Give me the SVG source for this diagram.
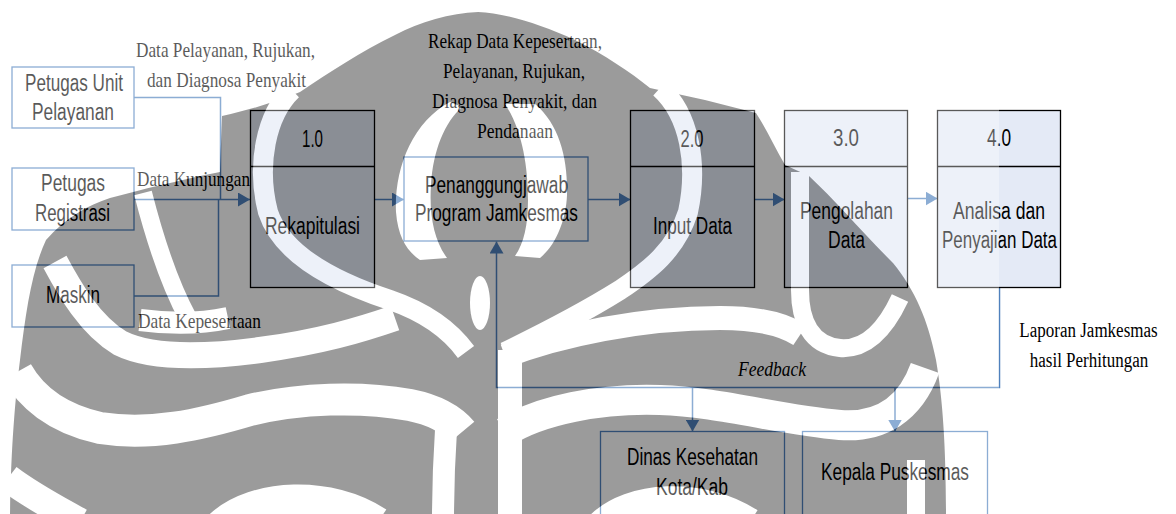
<svg xmlns="http://www.w3.org/2000/svg" xmlns:xlink="http://www.w3.org/1999/xlink" width="1176" height="514" viewBox="0 0 1176 514">
  <style>
    .ent { fill: none; stroke: #4f81bd; stroke-width: 1.3; }
    .proc { fill: #e4eaf6; stroke: #000; stroke-width: 1.3; }
    .div { stroke: #000; stroke-width: 1.3; }
    .flow { fill: none; stroke: #4f81bd; stroke-width: 1.5; }
    .sans { font-family: "Liberation Sans", Arial, sans-serif; font-size: 23px; fill: #000; text-anchor: middle; }
    .serif { font-family: "Liberation Serif", "Times New Roman", serif; font-size: 21.5px; fill: #000; }
    .small { font-size: 17px; }
    .mid { text-anchor: middle; }
    .ital { font-style: italic; }
    .gap { fill: none; }
  </style>
  <defs>
    <marker id="arrow" viewBox="0 0 12 14" refX="12" refY="7" markerWidth="12" markerHeight="14" markerUnits="userSpaceOnUse" orient="auto">
      <path d="M0,0 L12,7 L0,14 Z" fill="#4f81bd"/>
    </marker>

    <!-- emblem outline -->
    <path id="wm-body" d="M478,12 C505,13 540,24 575,40 C605,55 630,72 650,88 L705,100 L756,113 C766,128 775,148 785,165 L809,176 C835,200 862,232 893,263 C915,290 928,320 936,360 C943,400 946,450 946,514 L10,514 C11,450 15,400 20,360 C26,310 32,270 46,240 C65,218 88,205 110,198 C140,190 180,180 220,172 L222,116 C250,110 275,102 300,92 C330,72 360,52 395,35 C420,22 450,13 478,12 Z"/>

    <!-- light gaps that split the emblem into bands -->
    <g id="wm-gaps">
      <!-- left half -->
      <path class="gap" stroke-width="20" d="M292,90 C266,115 256,165 268,212 C282,255 335,282 390,300 C425,312 450,330 466,352"/>
      <path stroke="none" d="M450,102 C412,122 394,170 396,212 C398,238 408,252 420,260 L447,258 C434,240 429,215 431,185 C433,150 445,122 462,107 Z"/>
      <path class="gap" stroke-width="18" d="M143,193 C155,240 170,285 188,318"/>
      <path class="gap" stroke-width="22" d="M140,320 C170,324 200,324 228,318"/>
      <path class="gap" stroke-width="26" d="M55,262 C70,290 90,325 120,343 C150,358 200,358 260,350 C320,342 360,330 395,318"/>
      <path class="gap" stroke-width="32" d="M17,372 C30,395 55,418 100,428 C150,436 200,425 250,410 C300,398 360,396 410,405 C435,410 452,420 462,432"/>
      <path class="gap" stroke-width="28" d="M8,478 C30,495 55,508 80,522"/>
      <path class="gap" stroke-width="30" d="M220,525 C255,493 330,490 378,522"/>
      <path class="gap" stroke-width="22" d="M446,430 C444,460 443,490 443,520"/>
      <!-- centre -->
      <ellipse stroke="none" cx="480" cy="303" rx="10" ry="27"/>
      <!-- right half -->
      <path stroke="none" d="M505,104 C522,130 528,165 528,200 C528,225 524,243 515,256 L540,258 C556,245 566,220 567,195 C568,160 560,125 535,104 Z"/>
      <path class="gap" stroke-width="20" d="M660,88 C690,115 698,165 688,212 C676,250 650,270 620,290 C580,315 540,335 505,352"/>
      <path class="gap" stroke-width="24" d="M505,356 C560,335 640,318 720,318 C760,318 785,325 800,335"/>
      <path class="gap" stroke-width="18" d="M800,172 L800,290 C800,320 810,345 840,348 C865,350 885,330 900,298"/>
      <path class="gap" stroke-width="30" d="M505,432 C540,410 600,398 660,400 C720,402 780,420 840,425 C880,428 910,410 925,368"/>
      <path class="gap" stroke-width="24" d="M510,350 L510,522"/>
      <path class="gap" stroke-width="28" d="M600,525 C630,495 700,490 750,522"/>
      <path class="gap" stroke-width="18" d="M916,460 L916,520"/>
    </g>

    <mask id="band-mask" maskUnits="userSpaceOnUse" x="0" y="0" width="1176" height="514">
      <use xlink:href="#wm-body" fill="#fff"/>
      <use xlink:href="#wm-gaps" fill="#000" stroke="#000"/>
    </mask>
    <mask id="gap-mask" maskUnits="userSpaceOnUse" x="0" y="0" width="1176" height="514">
      <rect x="0" y="0" width="999" height="514" fill="#fff"/>
      <use xlink:href="#wm-body" fill="#000"/>
      <use xlink:href="#wm-gaps" fill="#fff" stroke="#fff"/>
    </mask>
  </defs>

  <rect width="1176" height="514" fill="#fff"/>

  <!-- data flows -->
  <g id="connectors">
    <path class="flow" d="M134,97.5 H220.5 V199.5"/>
    <path class="flow" d="M134,296 H218.5 V199.5"/>
    <path class="flow" d="M134,199.5 H250" marker-end="url(#arrow)"/>
    <path class="flow" d="M374,199.5 H404" marker-end="url(#arrow)"/>
    <path class="flow" d="M588,199.5 H630.5" marker-end="url(#arrow)"/>
    <path class="flow" d="M754,199.5 H784.5" marker-end="url(#arrow)"/>
    <path class="flow" d="M907,198.5 H937.5" marker-end="url(#arrow)"/>
    <path class="flow" d="M999.5,287.5 V387.5 H496.5 V241.5" marker-end="url(#arrow)"/>
    <path class="flow" d="M692.5,387.5 V431.5" marker-end="url(#arrow)"/>
    <path class="flow" d="M895,387.5 V431.5" marker-end="url(#arrow)"/>
  </g>

  <!-- external entities -->
  <g id="petugas-unit">
    <rect class="ent" x="12" y="67" width="122" height="61"/>
    <text class="sans" x="74" y="91" textLength="98" lengthAdjust="spacingAndGlyphs">Petugas Unit</text>
    <text class="sans" x="73" y="120" textLength="82" lengthAdjust="spacingAndGlyphs">Pelayanan</text>
  </g>
  <g id="petugas-registrasi">
    <rect class="ent" x="12" y="168" width="122" height="62"/>
    <text class="sans" x="73" y="191" textLength="64" lengthAdjust="spacingAndGlyphs">Petugas</text>
    <text class="sans" x="72.5" y="221" textLength="75" lengthAdjust="spacingAndGlyphs">Registrasi</text>
  </g>
  <g id="maskin">
    <rect class="ent" x="12" y="265" width="122" height="62"/>
    <text class="sans" x="73" y="303" textLength="54" lengthAdjust="spacingAndGlyphs">Maskin</text>
  </g>
  <g id="penanggungjawab">
    <rect class="ent" x="404" y="157" width="184" height="84"/>
    <text class="sans" x="496.5" y="193" textLength="143" lengthAdjust="spacingAndGlyphs">Penanggungjawab</text>
    <text class="sans" x="496.5" y="221" textLength="163" lengthAdjust="spacingAndGlyphs">Program Jamkesmas</text>
  </g>
  <g id="dinas-kesehatan">
    <rect class="ent" x="600.5" y="431.5" width="184" height="100"/>
    <text class="sans" x="692.5" y="465" textLength="131" lengthAdjust="spacingAndGlyphs">Dinas Kesehatan</text>
    <text class="sans" x="692" y="495" textLength="72" lengthAdjust="spacingAndGlyphs">Kota/Kab</text>
  </g>
  <g id="kepala-puskesmas">
    <rect class="ent" x="802.5" y="431.5" width="185" height="100"/>
    <text class="sans" x="895" y="480" textLength="148" lengthAdjust="spacingAndGlyphs">Kepala Puskesmas</text>
  </g>

  <!-- processes -->
  <g id="proses-1">
    <rect class="proc" x="250.5" y="110.5" width="124" height="177"/>
    <line class="div" x1="250.5" y1="166.5" x2="374.5" y2="166.5"/>
    <text class="sans" x="312.5" y="147" textLength="21" lengthAdjust="spacingAndGlyphs">1.0</text>
    <text class="sans" x="312.5" y="234" textLength="95" lengthAdjust="spacingAndGlyphs">Rekapitulasi</text>
  </g>
  <g id="proses-2">
    <rect class="proc" x="630.5" y="110.5" width="124" height="177"/>
    <line class="div" x1="630.5" y1="166.5" x2="754.5" y2="166.5"/>
    <text class="sans" x="692" y="147" textLength="23" lengthAdjust="spacingAndGlyphs">2.0</text>
    <text class="sans" x="692.5" y="234" textLength="79" lengthAdjust="spacingAndGlyphs">Input Data</text>
  </g>
  <g id="proses-3">
    <rect class="proc" x="784.5" y="110.5" width="123" height="177"/>
    <line class="div" x1="784.5" y1="166.5" x2="907.5" y2="166.5"/>
    <text class="sans" x="846" y="146" textLength="26" lengthAdjust="spacingAndGlyphs">3.0</text>
    <text class="sans" x="846.5" y="219" textLength="93" lengthAdjust="spacingAndGlyphs">Pengolahan</text>
    <text class="sans" x="846.5" y="248" textLength="37" lengthAdjust="spacingAndGlyphs">Data</text>
  </g>
  <g id="proses-4">
    <rect class="proc" x="937.5" y="110.5" width="123" height="177"/>
    <line class="div" x1="937.5" y1="166.5" x2="1060.5" y2="166.5"/>
    <text class="sans" x="999" y="146" textLength="24" lengthAdjust="spacingAndGlyphs">4.0</text>
    <text class="sans" x="999" y="219" textLength="92" lengthAdjust="spacingAndGlyphs">Analisa dan</text>
    <text class="sans" x="999.5" y="248" textLength="115" lengthAdjust="spacingAndGlyphs">Penyajian Data</text>
  </g>

  <!-- flow labels -->
  <g id="labels">
    <text class="serif mid" x="225.5" y="57" textLength="179" lengthAdjust="spacingAndGlyphs">Data Pelayanan, Rujukan,</text>
    <text class="serif mid" x="226.5" y="87" textLength="159" lengthAdjust="spacingAndGlyphs">dan Diagnosa Penyakit</text>
    <text class="serif" x="137" y="186" textLength="113" lengthAdjust="spacingAndGlyphs">Data Kunjungan</text>
    <text class="serif" x="138" y="328" textLength="123" lengthAdjust="spacingAndGlyphs">Data Kepesertaan</text>
    <text class="serif mid" x="515" y="48" textLength="174" lengthAdjust="spacingAndGlyphs">Rekap Data Kepesertaan,</text>
    <text class="serif mid" x="514" y="78" textLength="142" lengthAdjust="spacingAndGlyphs">Pelayanan, Rujukan,</text>
    <text class="serif mid" x="514.5" y="108" textLength="165" lengthAdjust="spacingAndGlyphs">Diagnosa Penyakit, dan</text>
    <text class="serif mid" x="515" y="138" textLength="76" lengthAdjust="spacingAndGlyphs">Pendanaan</text>
    <text class="serif small mid" transform="translate(1088.5,337) scale(1,1.22)" x="0" y="0">Laporan Jamkesmas</text>
    <text class="serif small mid" transform="translate(1089,367) scale(1,1.22)" x="0" y="0">hasil Perhitungan</text>
    <text class="serif mid ital" x="772" y="376" textLength="68" lengthAdjust="spacingAndGlyphs">Feedback</text>
  </g>

  <!-- emblem laid over the page: dark bands and a light haze between them -->
  <g id="emblem">
    <rect x="0" y="0" width="999" height="514" fill="#fff" opacity="0.35" mask="url(#gap-mask)"/>
    <rect x="0" y="0" width="999" height="514" fill="#000" opacity="0.39" mask="url(#band-mask)"/>
  </g>
</svg>
